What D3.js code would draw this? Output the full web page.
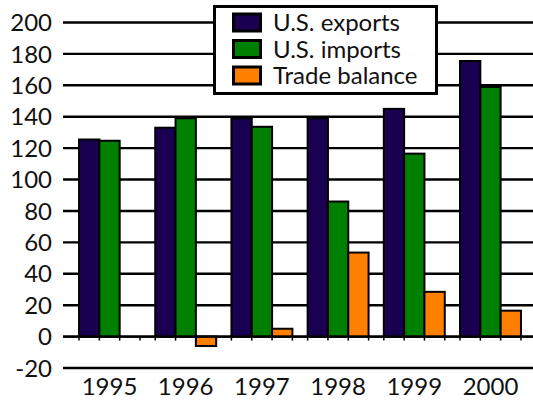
<!DOCTYPE html>
<html>
<head>
<meta charset="utf-8">
<script src="https://cdn.jsdelivr.net/npm/d3@7"></script>
<style>
  html, body { margin: 0; padding: 0; background: #fff; }
  svg { display: block; }
  text { font-family: Lato, "DejaVu Sans", sans-serif; fill: #111; }
</style>
</head>
<body>
<svg id="chart" width="533" height="401"></svg>
<script>
const years = ["1995", "1996", "1997", "1998", "1999", "2000"];
const exportsVals = [125.5, 133, 139, 139, 145, 175.5];
const importsVals = [124.7, 139, 133.6, 86, 116.5, 159];
const balanceVals = [0, -6, 5, 53.5, 28.5, 16.5];
const seriesNames = ["U.S. exports", "U.S. imports", "Trade balance"];
const seriesColors = ["#1a0050", "#008000", "#ff8000"];
const yTicks = [-20, 0, 20, 40, 60, 80, 100, 120, 140, 160, 180, 200];

const series = [exportsVals, importsVals, balanceVals];
const svg = d3.select("#chart");

const plotLeft = 63, plotRight = 533;
const y = d3.scaleLinear().domain([-20, 200]).range([368, 22.5]);
const x0 = d3.scaleBand().domain(years).range([63.8, 536.2]).paddingInner(0.2).paddingOuter(0.2);
const x1 = d3.scaleBand().domain(d3.range(3)).range([0, x0.bandwidth()]);

// gridlines (except zero drawn separately)
svg.append("g").selectAll("line").data(yTicks).join("line")
  .attr("x1", plotLeft).attr("x2", plotRight)
  .attr("y1", d => y(d)).attr("y2", d => y(d))
  .attr("stroke", "#000").attr("stroke-width", 2.4);

// y labels
svg.append("g").selectAll("text").data(yTicks).join("text")
  .attr("x", 52).attr("y", d => y(d))
  .attr("dy", "0.36em")
  .attr("text-anchor", "end")
  .attr("font-size", 24)
  .text(d => d);

// bars
const groups = svg.append("g").selectAll("g").data(years).join("g")
  .attr("transform", d => `translate(${x0(d)},0)`);

groups.selectAll("rect")
  .data((d, i) => series.map((s, k) => ({ k, v: s[i] })).filter(o => o.v !== 0))
  .join("rect")
  .attr("x", d => x1(d.k))
  .attr("width", x1.bandwidth())
  .attr("y", d => y(Math.max(0, d.v)))
  .attr("height", d => Math.abs(y(d.v) - y(0)))
  .attr("fill", d => seriesColors[d.k])
  .attr("stroke", "#000").attr("stroke-width", 2);

// zero line and ticks
svg.append("line")
  .attr("x1", plotLeft).attr("x2", plotRight)
  .attr("y1", y(0)).attr("y2", y(0))
  .attr("stroke", "#000").attr("stroke-width", 2.4);

const tickXs = [];
years.forEach(yr => {
  for (let k = 0; k < 3; k++) tickXs.push(x0(yr) + x1(k));
  tickXs.push(x0(yr) + x0.bandwidth());
});
svg.append("g").selectAll("line").data(tickXs).join("line")
  .attr("x1", d => d).attr("x2", d => d)
  .attr("y1", y(0)).attr("y2", y(0) + 4)
  .attr("stroke", "#000").attr("stroke-width", 1.5);

// x labels
svg.append("g").selectAll("text").data(years).join("text")
  .attr("x", d => x0(d) + x0.bandwidth() / 2)
  .attr("y", 395)
  .attr("text-anchor", "middle")
  .attr("font-size", 24)
  .text(d => d);

// legend
const lg = svg.append("g");
lg.append("rect")
  .attr("x", 214.5).attr("y", 6.5).attr("width", 222).attr("height", 87)
  .attr("fill", "#fff").attr("stroke", "#000").attr("stroke-width", 3);
seriesNames.forEach((name, k) => {
  const yy = 14 + k * 26.5;
  lg.append("rect")
    .attr("x", 233.5).attr("y", yy).attr("width", 27).attr("height", 17)
    .attr("fill", seriesColors[k]).attr("stroke", "#000").attr("stroke-width", 3);
  lg.append("text")
    .attr("x", 273).attr("y", yy + 17)
    .attr("font-size", 24)
    .text(name);
});
</script>
</body>
</html>
